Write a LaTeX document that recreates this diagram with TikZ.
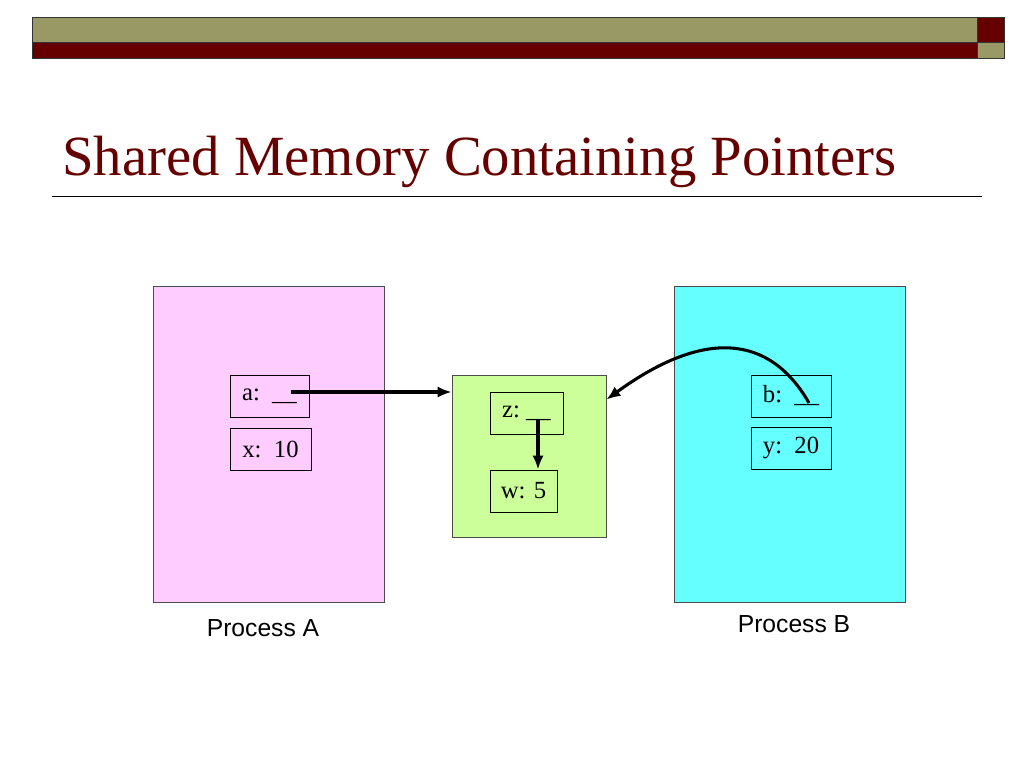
\documentclass[tikz,border=0pt]{standalone}
\usepackage{fontspec}
\setmainfont{Liberation Serif}
\newfontfamily\arialfont{Liberation Sans}
\usetikzlibrary{arrows,arrows.meta,calc}
\definecolor{bar_olive}{RGB}{153, 153, 102}
\definecolor{bar_red}{RGB}{102, 0, 0}
\definecolor{proc_pink}{RGB}{255, 204, 255}
\definecolor{proc_cyan}{RGB}{102, 255, 255}
\definecolor{shm_green}{RGB}{204, 255, 153}
\tikzstyle{pa}=[rectangle,fill=proc_pink,draw=black!70,line width=0.6pt,
  minimum width=173.25pt,minimum height=237pt]
\tikzstyle{pb}=[rectangle,fill=proc_cyan,draw=black!70,line width=0.6pt,
  minimum width=173.25pt,minimum height=237pt]
\tikzstyle{shm}=[rectangle,fill=shm_green,draw=black!70,line width=0.6pt,
  minimum width=115.5pt,minimum height=121.5pt]
\tikzstyle{var}=[rectangle,draw=black,line width=0.6pt,inner sep=0pt,
  minimum height=31.5pt,font=\fontsize{18.5}{22}\selectfont]
\tikzstyle{lbl}=[font=\arialfont\fontsize{18.5}{22}\selectfont]
\tikzstyle{ptr}=[-{Latex[length=10.5pt,width=8.5pt]},line width=2.3pt]
\tikzstyle{none}=[]

\begin{document}
\begin{tikzpicture}[x=0.75pt, y=-0.75pt]
            \useasboundingbox (0, 0) rectangle (1024, 768);
            % top bar
            \fill [bar_olive] (32, 17) rectangle (977, 42);
            \fill [bar_red] (32, 42) rectangle (977, 58);
            \fill [bar_red] (977, 17) rectangle (1004, 42);
            \fill [bar_olive] (977, 42) rectangle (1004, 58);
            \draw [black!80, line width=0.6pt] (32, 17) rectangle (1004, 58);
            \draw [black!80, line width=0.6pt] (32, 42) -- (1004, 42);
            \draw [black!80, line width=0.6pt] (977, 17) -- (977, 58);
            \node [style=none, anchor=base west, inner sep=0pt, text=bar_red,
              font=\fontsize{42.6}{46}\selectfont] (0) at (62, 175) {Shared Memory Containing Pointers};
            \draw [line width=0.6pt] (52, 196) -- (982, 196);
            % boxes
            \node [style=pa] (1) at (268.5, 444) {};
            \node [style=pb] (2) at (789.5, 444) {};
            \node [style=shm] (3) at (529, 456) {};
            \node [style=var, minimum width=59.25pt] (4) at (269.5, 396) {a:\ \ \_\_};
            \node [style=var, minimum width=60.75pt] (5) at (270.5, 449) {x:\ \ 10};
            \node [style=var, minimum width=54.75pt] (6) at (526.5, 413) {z:\ \_\_\ };
            \node [style=var, minimum width=50.25pt] (7) at (523.5, 491) {w: 5};
            \node [style=var, minimum width=60pt] (8) at (791, 396) {b:\ \ \_\_};
            \node [style=var, minimum width=60pt] (9) at (791, 448) {y:\ \ 20};
            \node [style=lbl] (10) at (263, 628) {Process A};
            \node [style=lbl] (11) at (794, 624) {Process B};
            % pointers
            \coordinate (12) at (291, 392);
            \coordinate (13) at (538, 420);
            \coordinate (14) at (809, 403);
            \draw [style=ptr] (12) -- (12 -| 3.west);
            \draw [style=ptr] (13) -- (13 |- 7.north);
            \draw [style=ptr] (14) .. controls (770, 335) and (705, 328) .. ([yshift=-18.75pt]3.north east);
    \end{tikzpicture}
\end{document}
